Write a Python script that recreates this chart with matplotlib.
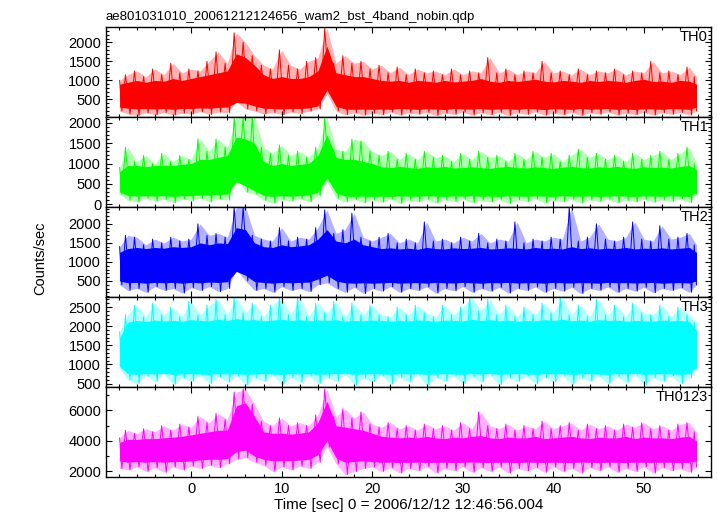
import numpy as np
import matplotlib
matplotlib.use("Agg")
import matplotlib.pyplot as plt
from matplotlib.ticker import MultipleLocator

plt.rcParams['font.family'] = ['Liberation Sans', 'DejaVu Sans']

title = "ae801031010_20061212124656_wam2_bst_4band_nobin.qdp"
xlabel = "Time [sec] 0 = 2006/12/12 12:46:56.004"
ylabel = "Counts/sec"

# time grid of the readings (sec)
time = [-7.9] + list(range(-7, 56)) + [55.8]

# spike extremes per second (counts/sec)
th0_hi = [1000, 1150, 1250, 1100, 1300, 1150, 1450, 1200, 1300, 1250, 1500, 1750, 1450, 2250, 2000, 1650,
          1400, 1300, 1800, 1400, 1300, 1500, 1600, 2370, 1450, 1650, 1450, 1500, 1300, 1400, 1200, 1350,
          1150, 1300, 1200, 1250, 1150, 1300, 1150, 1250, 1200, 1600, 1200, 1300, 1150, 1250, 1200, 1500,
          1200, 1250, 1150, 1300, 1150, 1250, 1200, 1300, 1150, 1250, 1200, 1500, 1200, 1250, 1150, 1350, 1100]
th0_lo = [200, 120, 80, 150, 100, 160, 90, 140, 120, 180, 110, 170, 150, 450, 250, 200,
          120, 160, 100, 170, 130, 190, 250, 650, 200, 100, 150, 90, 140, 100, 170, 90,
          150, 110, 160, 80, 140, 110, 170, 90, 150, 100, 160, 80, 150, 110, 170, 90,
          140, 100, 160, 80, 150, 110, 170, 90, 140, 100, 160, 90, 150, 110, 160, 90, 200]
# dense core of the curve per second
th0_top = [900, 950, 1000, 950, 1000, 980, 1050, 1000, 1050, 1100, 1150, 1200, 1250, 1700, 1600, 1400,
           1150, 1050, 1100, 1050, 1050, 1100, 1250, 1900, 1200, 1150, 1100, 1100, 1050, 1000, 980, 1000,
           950, 1000, 980, 950, 1000, 960, 980, 1000, 1050, 980, 950, 1000, 970, 1000, 1030, 980,
           960, 1000, 980, 950, 1000, 970, 1000, 980, 950, 1000, 1030, 970, 980, 950, 1000, 980, 900]
th0_bot = [300, 270, 250, 260, 250, 260, 240, 260, 260, 280, 270, 290, 300, 420, 400, 330,
           270, 260, 250, 260, 260, 280, 330, 750, 320, 250, 240, 250, 240, 250, 240, 260,
           250, 240, 255, 250, 235, 260, 250, 245, 260, 240, 250, 255, 240, 260, 250, 235,
           255, 250, 240, 260, 245, 250, 260, 240, 250, 235, 255, 250, 240, 260, 250, 240, 300]

th1_hi = [900, 1400, 1050, 1200, 1000, 1250, 1050, 1200, 1100, 1600, 1300, 1600, 1400, 2130, 2130, 2130,
          1400, 1250, 1450, 1200, 1300, 1150, 1400, 2130, 1350, 1300, 1600, 1550, 1300, 1200, 1300, 1100,
          1250, 1100, 1300, 1150, 1200, 1050, 1250, 1100, 1300, 1150, 1200, 1050, 1250, 1100, 1300, 1150,
          1250, 1050, 1200, 1350, 1150, 1250, 1100, 1200, 1050, 1250, 1100, 1200, 1300, 1100, 1250, 1400, 1000]
th1_lo = [250, 100, 60, 150, 80, 120, 40, 130, 90, 150, 60, 130, 100, 700, 300, 250,
          100, 30, 120, 80, 140, 60, 200, 550, 150, 60, 120, 40, 110, 50, 130, 20,
          100, 60, 120, 30, 110, 70, 130, 40, 100, 60, 120, 20, 110, 70, 130, 40,
          100, 60, 120, 30, 110, 70, 130, 40, 100, 60, 120, 50, 110, 70, 130, 40, 250]
th1_top = [800, 950, 950, 920, 950, 960, 950, 980, 1000, 1100, 1100, 1150, 1200, 1650, 1600, 1500,
           1050, 950, 1000, 950, 980, 1000, 1200, 1700, 1150, 1100, 1100, 1050, 1000, 920, 900, 930,
           900, 880, 920, 900, 930, 890, 900, 920, 900, 880, 910, 930, 900, 890, 920, 900,
           880, 910, 930, 900, 890, 920, 900, 930, 900, 880, 920, 900, 910, 890, 930, 950, 850]
th1_bot = [300, 220, 200, 210, 200, 210, 190, 210, 210, 230, 220, 240, 250, 550, 450, 330,
           220, 190, 210, 200, 210, 230, 300, 650, 280, 200, 190, 200, 190, 200, 190, 210,
           200, 195, 210, 200, 190, 205, 200, 210, 195, 200, 190, 210, 200, 195, 205, 200,
           190, 210, 200, 195, 205, 190, 200, 210, 200, 190, 205, 200, 195, 210, 200, 190, 300]

th2_hi = [1400, 1700, 1650, 1450, 1600, 1500, 1650, 1550, 1600, 2000, 1700, 1750, 1650, 2440, 2440, 1700,
          1600, 1550, 1900, 1550, 1650, 1600, 1900, 2370, 1750, 1850, 2280, 1650, 1550, 1650, 1750, 1500,
          1600, 1500, 2050, 1550, 1600, 1500, 1650, 1550, 1750, 1500, 1600, 1550, 2050, 1500, 1600, 1550,
          1650, 1600, 2440, 1550, 1650, 2000, 1600, 1550, 1650, 2050, 1600, 1550, 1950, 1600, 1650, 1750, 1450]
th2_lo = [400, 250, 300, 200, 350, 250, 300, 180, 320, 250, 350, 220, 300, 800, 500, 250,
          300, 200, 350, 250, 300, 220, 400, 450, 300, 200, 330, 170, 300, 230, 350, 200,
          300, 250, 340, 180, 300, 240, 350, 200, 300, 230, 330, 180, 300, 250, 340, 200,
          300, 230, 330, 170, 300, 250, 340, 200, 300, 230, 330, 190, 300, 250, 320, 200, 400]
th2_top = [1250, 1350, 1380, 1350, 1380, 1360, 1400, 1380, 1400, 1500, 1450, 1500, 1480, 1900, 1850, 1500,
           1400, 1380, 1450, 1400, 1420, 1450, 1600, 1850, 1550, 1500, 1600, 1450, 1400, 1350, 1370, 1340,
           1360, 1330, 1380, 1350, 1340, 1370, 1350, 1360, 1380, 1340, 1350, 1370, 1360, 1340, 1380, 1350,
           1360, 1340, 1400, 1350, 1370, 1340, 1360, 1350, 1380, 1340, 1360, 1350, 1370, 1340, 1360, 1380, 1250]
th2_bot = [500, 450, 460, 440, 460, 450, 460, 440, 460, 450, 470, 460, 480, 750, 650, 480,
           460, 440, 460, 450, 460, 470, 550, 650, 500, 450, 440, 450, 440, 450, 460, 440,
           450, 455, 440, 460, 450, 445, 460, 450, 440, 455, 450, 460, 445, 450, 455, 440,
           460, 450, 445, 455, 450, 440, 460, 450, 455, 445, 450, 460, 440, 450, 455, 445, 500]

th3_hi = [1850, 2300, 2550, 2250, 2600, 2300, 2500, 2250, 2650, 2300, 2550, 2700, 2300, 2760, 2350, 2600,
          2250, 2550, 2760, 2300, 2760, 2250, 2600, 2350, 2650, 2250, 2600, 2300, 2550, 2300, 2250, 2500,
          2300, 2550, 2350, 2250, 2550, 2300, 2500, 2760, 2400, 2700, 2300, 2550, 2250, 2500, 2300, 2600,
          2350, 2760, 2300, 2550, 2250, 2700, 2300, 2550, 2250, 2600, 2350, 2300, 2550, 2250, 2500, 2300, 2100]
th3_lo = [900, 600, 500, 700, 550, 750, 480, 650, 560, 720, 500, 680, 540, 700, 460, 650,
          560, 720, 480, 660, 530, 700, 500, 650, 560, 740, 470, 640, 550, 710, 490, 660,
          540, 720, 460, 650, 560, 700, 500, 680, 540, 720, 470, 650, 560, 700, 490, 660,
          540, 720, 480, 650, 560, 700, 500, 680, 530, 720, 470, 650, 560, 700, 500, 650, 900]
th3_top = [1700, 2100, 2150, 2120, 2160, 2140, 2150, 2130, 2170, 2150, 2140, 2180, 2150, 2200, 2160, 2170,
           2140, 2160, 2180, 2150, 2170, 2140, 2160, 2150, 2170, 2130, 2150, 2140, 2160, 2150, 2130, 2150,
           2140, 2160, 2150, 2130, 2160, 2150, 2140, 2180, 2150, 2170, 2140, 2160, 2130, 2150, 2140, 2170,
           2150, 2180, 2140, 2160, 2130, 2170, 2150, 2160, 2130, 2150, 2140, 2130, 2160, 2140, 2150, 2130, 1900]
th3_bot = [950, 760, 740, 760, 750, 770, 740, 750, 760, 750, 740, 760, 750, 760, 740, 750,
           760, 750, 740, 760, 750, 760, 740, 750, 760, 770, 740, 750, 760, 750, 740, 760,
           750, 760, 740, 750, 760, 750, 740, 760, 750, 770, 740, 750, 760, 750, 740, 760,
           750, 760, 740, 750, 760, 750, 740, 760, 750, 770, 740, 750, 760, 750, 740, 760, 950]

th0123_hi = [4200, 4700, 4500, 4800, 4600, 5000, 4700, 5100, 4900, 5600, 5200, 5800, 5400, 7200, 7400, 6400,
             5300, 5000, 5500, 5000, 5200, 5000, 5700, 7400, 5600, 6100, 5500, 5900, 5100, 4900, 5200, 4800,
             5000, 4700, 5100, 4800, 5000, 4700, 5200, 4800, 5900, 5000, 4800, 5100, 4700, 5000, 4800, 5300,
             4800, 5000, 5200, 4700, 5100, 4800, 5000, 4700, 5100, 4900, 5200, 4800, 5000, 4700, 5100, 5200, 4600]
th0123_lo = [2200, 2100, 2300, 2000, 2250, 1950, 2300, 2100, 2350, 2200, 2400, 2250, 2500, 2800, 2900, 2600,
             2400, 2000, 2300, 2100, 2350, 2200, 2600, 3600, 2500, 1800, 2000, 2200, 2300, 2000, 2250, 1900,
             2200, 2050, 2300, 1900, 2200, 2050, 2300, 1950, 2250, 2000, 2300, 1900, 2200, 2050, 2250, 1950,
             2300, 2000, 2200, 1900, 2250, 2050, 2300, 1950, 2200, 2000, 2300, 1900, 2250, 2050, 2200, 1950, 2300]
th0123_top = [3900, 4100, 4100, 4150, 4150, 4200, 4250, 4300, 4400, 4500, 4600, 4700, 4700, 6300, 6500, 5600,
              4600, 4500, 4500, 4450, 4500, 4600, 5200, 6600, 5000, 4900, 4800, 4700, 4500, 4300, 4250, 4200,
              4250, 4200, 4300, 4200, 4150, 4250, 4200, 4300, 4350, 4200, 4150, 4250, 4200, 4200, 4300, 4150,
              4200, 4250, 4300, 4200, 4150, 4250, 4200, 4200, 4300, 4150, 4250, 4200, 4200, 4150, 4250, 4300, 4000]
th0123_bot = [2700, 2600, 2650, 2600, 2650, 2600, 2650, 2650, 2700, 2750, 2800, 2800, 2850, 3300, 3400, 3000,
              2800, 2700, 2700, 2700, 2750, 2800, 3100, 4000, 2900, 2600, 2650, 2700, 2650, 2600, 2620, 2580,
              2600, 2620, 2590, 2600, 2610, 2580, 2600, 2620, 2600, 2590, 2610, 2600, 2580, 2620, 2600, 2590,
              2610, 2600, 2580, 2620, 2600, 2590, 2610, 2600, 2580, 2620, 2600, 2590, 2610, 2600, 2580, 2600, 2700]

bands = ["TH0", "TH1", "TH2", "TH3", "TH0123"]
highs = [th0_hi, th1_hi, th2_hi, th3_hi, th0123_hi]
lows = [th0_lo, th1_lo, th2_lo, th3_lo, th0123_lo]
tops = [th0_top, th1_top, th2_top, th3_top, th0123_top]
bots = [th0_bot, th1_bot, th2_bot, th3_bot, th0123_bot]
colors = ["#ff0000", "#00ff00", "#0000ff", "#00ffff", "#ff00ff"]
ylims = [(34, 2395), (-70, 2137), (77, 2441), (413, 2763), (1650, 7540)]
ymajor = [500, 500, 500, 500, 2000]
yminor = [100, 100, 100, 100, 1000]

fig = plt.figure(figsize=(7.17, 5.16), dpi=100)
left, width = 106 / 717, 605 / 717
top_px, panel_px = 27.3, 89.9

axes = []
for i in range(5):
    bottom = 1 - (top_px + panel_px * (i + 1)) / 516
    ax = fig.add_axes([left, bottom, width, panel_px / 516])
    axes.append(ax)
    t = np.array(time)
    # faint fringe of the spikes
    ax.fill_between(t, lows[i], highs[i], color=colors[i], alpha=0.3, lw=0)
    # dense core
    ax.fill_between(t, bots[i], tops[i], color=colors[i], lw=0)
    # spikes: up to the max, down to the min within each second
    zx = np.clip(np.column_stack([t - 0.25, t + 0.25]).ravel(), time[0], time[-1])
    zy = np.column_stack([highs[i], lows[i]]).ravel()
    ax.plot(zx, zy, color=colors[i], lw=0.7)
    ax.set_xlim(-9.4, 57.4)
    ax.set_ylim(*ylims[i])
    ax.xaxis.set_major_locator(MultipleLocator(10))
    ax.xaxis.set_minor_locator(MultipleLocator(2))
    ax.yaxis.set_major_locator(MultipleLocator(ymajor[i]))
    ax.yaxis.set_minor_locator(MultipleLocator(yminor[i]))
    ax.tick_params(which='both', direction='in', top=True, right=True, labelsize=10.5, colors='black')
    ax.tick_params(which='major', length=4, width=0.8)
    ax.tick_params(which='minor', length=2, width=0.8)
    for s in ax.spines.values():
        s.set_linewidth(1.0)
    ax.text(0.995, 0.97, bands[i], transform=ax.transAxes, ha='right', va='top', fontsize=10.5)
    if i < 4:
        ax.tick_params(labelbottom=False)

axes[0].set_title(title, loc='left', fontsize=9.5, pad=5)
axes[-1].set_xlabel(xlabel, fontsize=11, labelpad=2)
fig.text(40 / 717, 0.5, ylabel, rotation=90, ha='center', va='center', fontsize=10.5)

fig.savefig("out.png", dpi=100)
